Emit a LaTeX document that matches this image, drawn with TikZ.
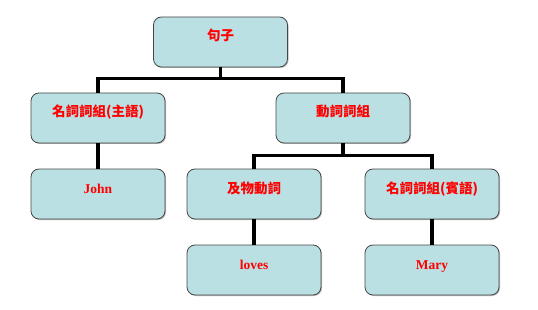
\documentclass[tikz,border=0pt]{standalone}
\usepackage{fontspec}
\setmainfont{Liberation Serif}
\newfontfamily\cjk{Noto Sans CJK TC}
\usetikzlibrary{shadows}
\definecolor{boxfill}{RGB}{186,224,227}
\definecolor{boxline}{RGB}{70,70,70}
\tikzset{
  wordbox/.style={draw=boxline, fill=boxfill, rounded corners=8pt, line width=0.8pt,
    minimum width=134pt, inner sep=0pt, text height=24pt, text depth=26pt,
    text=red, font=\fontsize{13.5}{15}\selectfont\bfseries,
    drop shadow={shadow xshift=1pt, shadow yshift=-1pt, fill=black!45, opacity=0.6}},
  branch/.style={line width=3.5pt}
}
\begin{document}
\begin{tikzpicture}[x=1pt, y=-1pt]
  \useasboundingbox (0,0) rectangle (538,310);
  % boxes: name / x / y / text
  \foreach \n/\x/\y/\t in {
    s/220.5/42/{\cjk 句子},
    np/98/118/{\cjk 名詞詞組(主語)},
    vp/343/118/{\cjk 動詞詞組},
    john/98/194/{John},
    tv/254/194/{\cjk 及物動詞},
    obj/432/194/{\cjk 名詞詞組(賓語)},
    loves/254/270/{loves},
    mary/432/270/{Mary}} {
    \node[wordbox] (\n) at (\x,\y) {\t};
  }
  % branches
  \draw[branch] (s.south) -- ++(0,11) -| (np.north);
  \draw[branch] (s.south) ++(0,11) -| (vp.north);
  \draw[branch] (np.south) -- (john.north);
  \draw[branch] (vp.south) -- ++(0,12) -| (tv.north);
  \draw[branch] (vp.south) ++(0,12) -| (obj.north);
  \draw[branch] (tv.south) -- (loves.north);
  \draw[branch] (obj.south) -- (mary.north);
\end{tikzpicture}
\end{document}
